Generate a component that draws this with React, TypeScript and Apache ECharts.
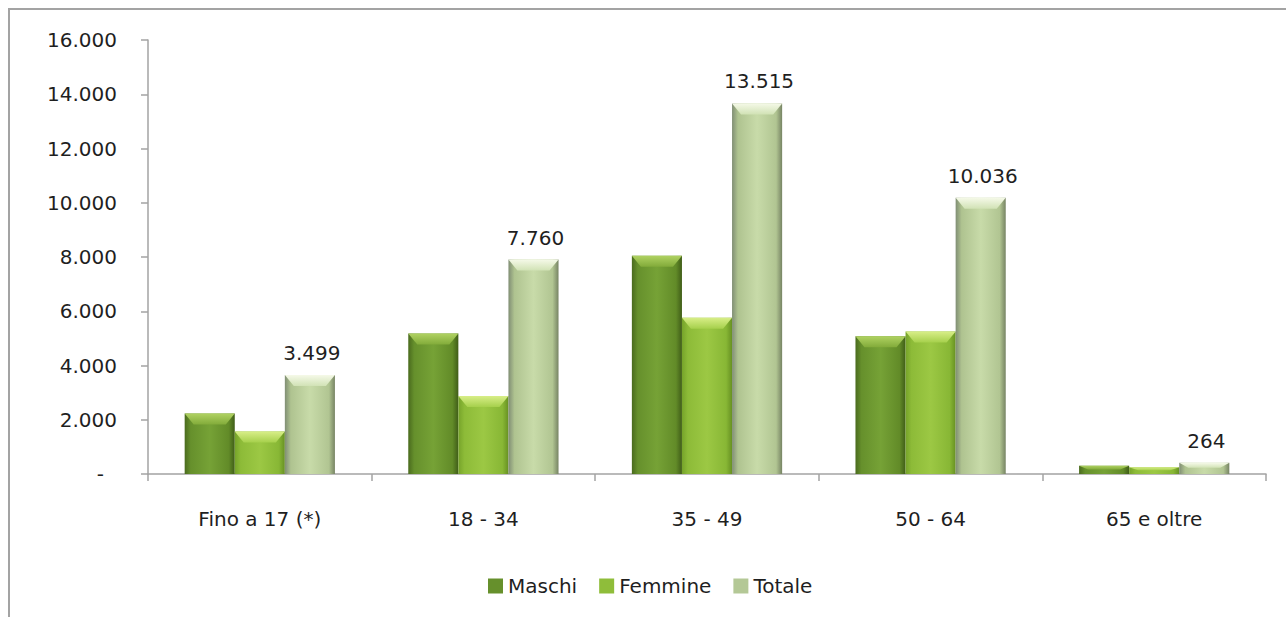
import React, { useEffect, useRef } from "react";
import * as echarts from "echarts";

const categories = ["Fino a 17 (*)", "18 - 34", "35 - 49", "50 - 64", "65 e oltre"];
const seriesNames = ["Maschi", "Femmine", "Totale"];
const maschi = [2080, 5030, 7900, 4930, 160];
const femmine = [1420, 2730, 5615, 5106, 104];
const totale = [3499, 7760, 13515, 10036, 264];
const yTicks = { min: 0, max: 16000, interval: 2000 };

const FONT = "DejaVu Sans";
const TEXT = "#1f1f1f";
const FS = 20;

const fmt = (v: number) => String(Math.round(v)).replace(/\B(?=(\d{3})+(?!\d))/g, ".");

type Pal = { body: string[]; cap: [string, string]; legend: string };
const palettes: Pal[] = [
  { body: ["#4a6b1e", "#66902c", "#76a236", "#628b28", "#405d18"], cap: ["#b0d262", "#82ab3a"], legend: "#66902c" },
  { body: ["#76a32a", "#8dbb38", "#9cc844", "#88b735", "#679122"], cap: ["#d8ee88", "#a6d04c"], legend: "#8fbd3a" },
  { body: ["#808e74", "#afc390", "#c8dba9", "#b1c592", "#778464"], cap: ["#f5f9e8", "#d1e2b5"], legend: "#b4c896" },
];

function makeRender(k: number, withLabel: boolean) {
  const pal = palettes[k];
  return (params: any, api: any) => {
    const idx = api.value(0);
    const val = api.value(1);
    const top0 = api.coord([idx, val]);
    const base = api.coord([idx, 0]);
    const band = api.size([1, 0])[0];
    const w = band * 0.224;
    const cx = top0[0] + (k - 1) * w;
    const x0 = cx - w / 2;
    const top = top0[1] - 4;
    const h = base[1] - top;
    const bh = Math.min(11, h * 0.45);
    const bev = Math.min(9, w / 4);
    const children: any[] = [
      {
        type: "rect",
        shape: { x: x0, y: top, width: w, height: h },
        style: {
          fill: new echarts.graphic.LinearGradient(0, 0, 1, 0, [
            { offset: 0, color: pal.body[0] },
            { offset: 0.12, color: pal.body[1] },
            { offset: 0.5, color: pal.body[2] },
            { offset: 0.88, color: pal.body[3] },
            { offset: 1, color: pal.body[4] },
          ]),
        },
      },
      {
        type: "polygon",
        shape: {
          points: [
            [x0, top],
            [x0 + w, top],
            [x0 + w - bev, top + bh],
            [x0 + bev, top + bh],
          ],
        },
        style: {
          fill: new echarts.graphic.LinearGradient(0, 0, 0, 1, [
            { offset: 0, color: pal.cap[0] },
            { offset: 1, color: pal.cap[1] },
          ]),
        },
      },
    ];
    if (withLabel) {
      children.push({
        type: "text",
        style: {
          text: fmt(val),
          x: cx + 2,
          y: top - 22,
          align: "center",
          verticalAlign: "middle",
          fill: TEXT,
          font: `${FS}px "${FONT}"`,
        },
      });
    }
    return { type: "group", children };
  };
}

export default function App() {
  const ref = useRef<HTMLDivElement>(null);
  useEffect(() => {
    if (!ref.current) return;
    const chart = echarts.init(ref.current, null, { renderer: "svg" });
    const all = [maschi, femmine, totale];
    chart.setOption({
      animation: false,
      backgroundColor: "#ffffff",
      textStyle: { fontFamily: FONT },
      graphic: [
        {
          type: "rect",
          z: -10,
          shape: { x: 9, y: 9, width: 1500, height: 900 },
          style: { fill: "none", stroke: "#a3a3a3", lineWidth: 2 },
        },
      ],
      grid: { left: 148, right: 20, top: 40, bottom: 143 },
      legend: {
        left: 483,
        top: 571,
        itemWidth: 15,
        itemHeight: 15,
        itemGap: 22,
        textStyle: { color: TEXT, fontSize: FS, fontFamily: FONT },
        data: seriesNames.map((n) => ({ name: n, icon: "rect" })),
      },
      xAxis: {
        type: "category",
        data: categories,
        axisLine: { lineStyle: { color: "#a3a3a3", width: 1.5 } },
        axisTick: { show: true, length: 7, lineStyle: { color: "#a3a3a3", width: 1.5 } },
        axisLabel: { color: TEXT, fontSize: FS, fontFamily: FONT, margin: 35 },
        splitLine: { show: false },
      },
      yAxis: {
        type: "value",
        min: yTicks.min,
        max: yTicks.max,
        interval: yTicks.interval,
        axisLine: { show: true, lineStyle: { color: "#a3a3a3", width: 1.5 } },
        axisTick: { show: true, length: 7, lineStyle: { color: "#a3a3a3", width: 1.5 } },
        splitLine: { show: false },
        axisLabel: {
          color: TEXT,
          fontSize: FS,
          fontFamily: FONT,
          margin: 31,
          formatter: (v: number) => (v === 0 ? "{dash|-}" : fmt(v)),
          rich: { dash: { padding: [0, 13, 0, 0], fontSize: FS, color: TEXT, fontFamily: FONT } },
        },
      },
      series: seriesNames.map((name, k) => ({
        name,
        type: "custom",
        renderItem: makeRender(k, k === 2),
        itemStyle: { color: palettes[k].legend },
        encode: { x: 0, y: 1 },
        data: all[k].map((v, i) => [i, v]),
      })),
    });
    return () => chart.dispose();
  }, []);
  return (
    <div
      ref={ref}
      style={{ position: "fixed", left: 0, top: 0, width: 1286, height: 617 }}
    />
  );
}
